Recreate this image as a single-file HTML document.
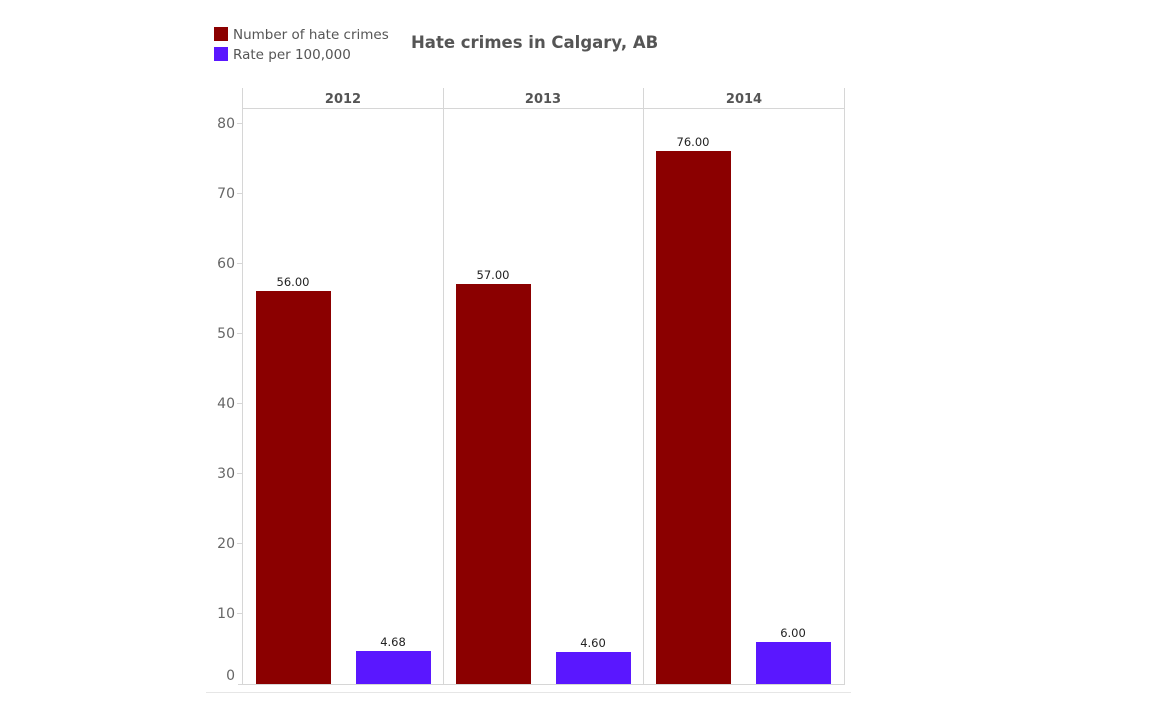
<!DOCTYPE html>
<html><head><meta charset="utf-8"><style>
body{margin:0;background:#fff;}
svg{display:block;font-family:"DejaVu Sans","Liberation Sans",sans-serif;}
</style></head><body>
<svg width="1152" height="720" viewBox="0 0 1152 720">
<rect x="214" y="27" width="14" height="14" fill="#8b0000"/>
<text x="233" y="39" font-size="13.5" fill="#555">Number of hate crimes</text>
<rect x="214" y="47" width="14" height="14" fill="#5a17ff"/>
<text x="233" y="59" font-size="13.5" fill="#555">Rate per 100,000</text>
<text x="411" y="48" font-size="16.5" font-weight="bold" fill="#555">Hate crimes in Calgary, AB</text>
<g stroke="#d6d6d6" stroke-width="1">
<line x1="242.5" y1="88" x2="242.5" y2="684"/>
<line x1="443.5" y1="88" x2="443.5" y2="684"/>
<line x1="643.5" y1="88" x2="643.5" y2="684"/>
<line x1="844.5" y1="88" x2="844.5" y2="684"/>
<line x1="242" y1="108.5" x2="845" y2="108.5"/>
<line x1="238" y1="684.5" x2="845" y2="684.5"/>
<line x1="206" y1="692.5" x2="851" y2="692.5" stroke="#e6e6e6"/>
<line x1="237" y1="123.5" x2="242" y2="123.5"/>
<line x1="237" y1="193.5" x2="242" y2="193.5"/>
<line x1="237" y1="263.5" x2="242" y2="263.5"/>
<line x1="237" y1="333.5" x2="242" y2="333.5"/>
<line x1="237" y1="403.5" x2="242" y2="403.5"/>
<line x1="237" y1="473.5" x2="242" y2="473.5"/>
<line x1="237" y1="543.5" x2="242" y2="543.5"/>
<line x1="237" y1="613.5" x2="242" y2="613.5"/>
</g>
<g font-size="13" font-weight="bold" fill="#555" text-anchor="middle">
<text x="343" y="103">2012</text><text x="543" y="103">2013</text><text x="744" y="103">2014</text>
</g>
<g font-size="14" fill="#666" text-anchor="end">
<text x="235" y="128">80</text><text x="235" y="198">70</text><text x="235" y="268">60</text>
<text x="235" y="338">50</text><text x="235" y="408">40</text><text x="235" y="478">30</text>
<text x="235" y="548">20</text><text x="235" y="618">10</text><text x="235" y="680">0</text>
</g>
<rect x="256" y="291" width="75" height="393" fill="#8b0000"/>
<rect x="356" y="651" width="75" height="33" fill="#5a17ff"/>
<rect x="456" y="284" width="75" height="400" fill="#8b0000"/>
<rect x="556" y="652" width="75" height="32" fill="#5a17ff"/>
<rect x="656" y="151" width="75" height="533" fill="#8b0000"/>
<rect x="756" y="642" width="75" height="42" fill="#5a17ff"/>
<g font-size="11.5" fill="#222" text-anchor="middle">
<text x="293" y="286">56.00</text><text x="393" y="646">4.68</text>
<text x="493" y="279">57.00</text><text x="593" y="647">4.60</text>
<text x="693" y="146">76.00</text><text x="793" y="637">6.00</text>
</g>
</svg>
</body></html>
